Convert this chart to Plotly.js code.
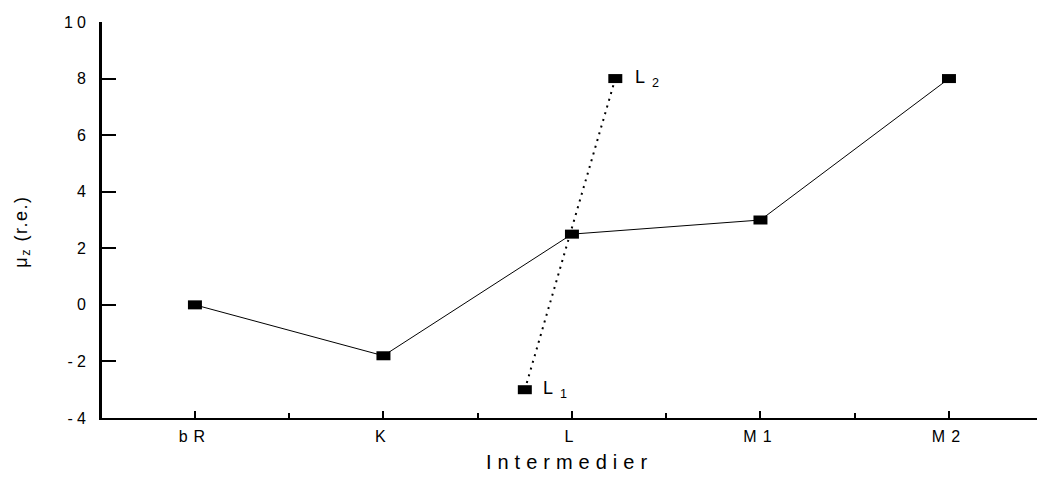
<!DOCTYPE html>
<html>
<head>
<meta charset="utf-8">
<script src="https://cdn.plot.ly/plotly-3.0.1.min.js"></script>
<style>
  html, body { margin: 0; padding: 0; background: #fff; }
  #chart { width: 1038px; height: 479px; }
  .xtick text { letter-spacing: 6px; }
  .ytick text { letter-spacing: 4px; }
  .xtitle { letter-spacing: 6px; }
  .annotation-text { letter-spacing: 7px; }
</style>
</head>
<body>
<div id="chart"></div>
<script>
// Category positions and labels
const categories = ["bR", "K", "L", "M1", "M2"];
const catPos = [1, 2, 3, 4, 5];
// Main series
const muMain = [0, -1.8, 2.5, 3, 8];
// L1 / L2 pair (dotted)
const lPairX = [2.75, 3.23];
const lPairY = [-3, 8];
const lPairLabels = ["L<sub>1</sub>", "L<sub>2</sub>"];
const yTicks = [-4, -2, 0, 2, 4, 6, 8, 10];
const yTickText = ["-4", "-2", "0", "2", "4", "6", "8", "10"];

const rectErr = { type: 'constant', value: 0.0371, thickness: 9, width: 0, color: '#000' };

const traces = [
  {
    x: catPos, y: muMain, type: 'scatter', mode: 'lines',
    line: { color: '#000', width: 1 },
    error_x: rectErr, hoverinfo: 'skip'
  },
  {
    x: lPairX, y: lPairY, type: 'scatter', mode: 'lines',
    line: { color: '#000', width: 2, dash: '2px,5px' },
    error_x: rectErr, hoverinfo: 'skip'
  }
];

const font = { family: 'Liberation Sans, Arial, sans-serif', color: '#000' };

const layout = {
  width: 1038, height: 479,
  margin: { l: 102, r: 1, t: 22, b: 61 },
  paper_bgcolor: '#fff', plot_bgcolor: '#fff',
  showlegend: false,
  font: font,
  xaxis: {
    range: [0.507, 5.467],
    tickvals: catPos, ticktext: categories,
    ticks: 'inside', ticklen: 7, tickwidth: 2, tickcolor: '#000',
    minor: { tickvals: [1.5, 2.5, 3.5, 4.5], ticks: 'inside', ticklen: 5, tickwidth: 2, tickcolor: '#000' },
    showline: true, linewidth: 2, linecolor: '#000',
    showgrid: false, zeroline: false,
    tickfont: { family: font.family, size: 16, color: '#000' },
    ticklabelstandoff: 3,
    title: { text: 'Intermedier', font: { family: font.family, size: 20, color: '#000' }, standoff: 11 }
  },
  yaxis: {
    range: [-4, 10],
    tickvals: yTicks, ticktext: yTickText,
    ticks: 'inside', ticklen: 14, tickwidth: 2, tickcolor: '#000',
    showline: true, linewidth: 3, linecolor: '#000',
    showgrid: false, zeroline: false,
    tickfont: { family: font.family, size: 16, color: '#000' },
    ticklabelstandoff: 6
  },
  annotations: [
    {
      text: 'μ<sub>z</sub> (r.e.)', xref: 'paper', yref: 'paper',
      x: -0.085, y: 0.47, xanchor: 'center', yanchor: 'middle',
      textangle: -90, showarrow: false,
      font: { family: font.family, size: 18, color: '#000' }
    },
    {
      text: lPairLabels[0], x: lPairX[0], y: lPairY[0], xref: 'x', yref: 'y',
      xanchor: 'left', yanchor: 'middle', xshift: 16, yshift: 0,
      showarrow: false, font: { family: font.family, size: 18, color: '#000' }
    },
    {
      text: lPairLabels[1], x: lPairX[1], y: lPairY[1], xref: 'x', yref: 'y',
      xanchor: 'left', yanchor: 'middle', xshift: 18, yshift: 0,
      showarrow: false, font: { family: font.family, size: 18, color: '#000' }
    }
  ]
};

Plotly.newPlot('chart', traces, layout, { staticPlot: true, displayModeBar: false }).then(function () {
  const anns = document.querySelectorAll('.annotation-text');
  anns.forEach(function (t) {
    if (t.textContent.indexOf('r.e.') !== -1) t.style.letterSpacing = '1.5px';
  });
});
</script>
</body>
</html>
